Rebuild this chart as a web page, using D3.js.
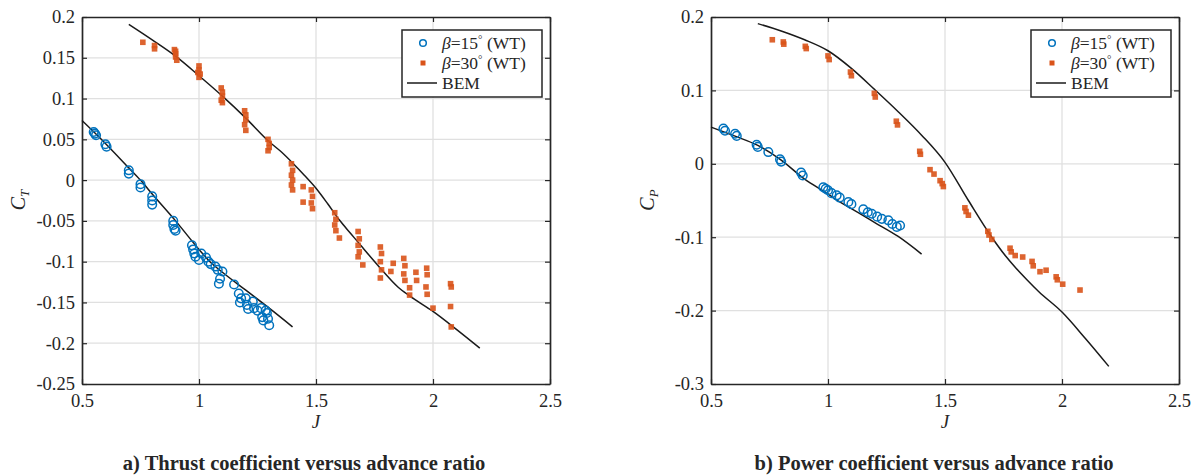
<!DOCTYPE html>
<html>
<head>
<meta charset="utf-8">
<script src="https://cdn.jsdelivr.net/npm/d3@7"></script>
<style>
  body { margin: 0; background: #fff; }
  text { font-family: "Liberation Serif", "Times New Roman", serif; fill: #262626; }
</style>
</head>
<body>
<div id="chart"></div>
<script>
const colorBlue = '#0072BD';
const colorOrange = '#D95319';

// tick values
const jTicks = [0.5, 1, 1.5, 2, 2.5];
const ctTicks = [0.2, 0.15, 0.1, 0.05, 0, -0.05, -0.1, -0.15, -0.2, -0.25];
const cpTicks = [0.2, 0.1, 0, -0.1, -0.2, -0.3];

// BEM curves [J, coefficient]
const bemCt15 = [[0.5,0.073],[0.6,0.045],[0.7,0.015],[0.75,0],[0.8,-0.017],[0.9,-0.05],[1.0,-0.085],[1.05,-0.101],[1.1,-0.113],[1.2,-0.135],[1.3,-0.157],[1.4,-0.18]];
const bemCt30 = [[0.7,0.191],[0.8,0.172],[0.9,0.152],[1.0,0.128],[1.1,0.103],[1.2,0.076],[1.3,0.047],[1.35,0.035],[1.4,0.021],[1.45,0.006],[1.5,-0.01],[1.55,-0.029],[1.6,-0.049],[1.65,-0.066],[1.7,-0.083],[1.775,-0.108],[1.85,-0.131],[1.9,-0.142],[2.0,-0.161],[2.1,-0.183],[2.2,-0.206]];
const bemCp15 = [[0.5,0.05],[0.6,0.038],[0.7,0.025],[0.8,0.005],[0.9,-0.021],[1.0,-0.041],[1.05,-0.052],[1.1,-0.061],[1.2,-0.08],[1.3,-0.099],[1.4,-0.123]];
const bemCp30 = [[0.7,0.191],[0.8,0.181],[0.9,0.169],[1.0,0.154],[1.1,0.13],[1.2,0.101],[1.3,0.071],[1.4,0.039],[1.5,0.002],[1.6,-0.05],[1.7,-0.1],[1.76,-0.126],[1.8,-0.141],[1.85,-0.158],[1.9,-0.174],[2.0,-0.202],[2.1,-0.238],[2.2,-0.276]];

// wind tunnel measurements [J, coefficient]
const wtCt15 = [[0.55,0.059],[0.555,0.057],[0.56,0.055],[0.60,0.044],[0.605,0.041],[0.70,0.012],[0.70,0.008],[0.75,-0.005],[0.75,-0.009],[0.80,-0.02],[0.80,-0.025],[0.80,-0.03],[0.89,-0.05],[0.89,-0.055],[0.895,-0.06],[0.9,-0.062],[0.97,-0.08],[0.975,-0.085],[0.98,-0.09],[0.985,-0.094],[1.0,-0.098],[1.01,-0.09],[1.03,-0.095],[1.04,-0.1],[1.05,-0.103],[1.07,-0.106],[1.08,-0.11],[1.1,-0.112],[1.085,-0.127],[1.09,-0.121],[1.15,-0.128],[1.17,-0.139],[1.175,-0.15],[1.18,-0.145],[1.2,-0.145],[1.205,-0.153],[1.21,-0.158],[1.23,-0.149],[1.235,-0.157],[1.25,-0.16],[1.265,-0.157],[1.27,-0.168],[1.275,-0.172],[1.29,-0.163],[1.295,-0.17],[1.3,-0.178],[1.285,-0.16]];
const wtCt30 = [[0.76,0.169],[0.81,0.165],[0.81,0.161],[0.895,0.16],[0.9,0.155],[0.9,0.151],[0.905,0.147],[0.9,0.158],[1.0,0.14],[1.0,0.135],[1.005,0.13],[1.0,0.126],[0.995,0.132],[1.095,0.113],[1.1,0.108],[1.1,0.103],[1.095,0.098],[1.1,0.095],[1.195,0.085],[1.2,0.08],[1.2,0.074],[1.195,0.068],[1.2,0.061],[1.295,0.05],[1.3,0.045],[1.3,0.04],[1.295,0.036],[1.395,0.02],[1.4,0.012],[1.395,0.006],[1.4,0.0],[1.395,-0.006],[1.4,-0.012],[1.445,-0.008],[1.445,-0.027],[1.48,-0.012],[1.485,-0.02],[1.48,-0.028],[1.485,-0.035],[1.58,-0.04],[1.585,-0.048],[1.58,-0.055],[1.585,-0.062],[1.6,-0.071],[1.68,-0.063],[1.685,-0.072],[1.68,-0.08],[1.685,-0.088],[1.68,-0.094],[1.7,-0.104],[1.775,-0.082],[1.78,-0.09],[1.775,-0.1],[1.78,-0.11],[1.775,-0.12],[1.83,-0.102],[1.82,-0.112],[1.875,-0.096],[1.88,-0.105],[1.875,-0.115],[1.88,-0.123],[1.9,-0.132],[1.9,-0.141],[1.927,-0.113],[1.93,-0.123],[1.973,-0.108],[1.975,-0.116],[1.97,-0.131],[1.975,-0.14],[2.0,-0.157],[2.075,-0.127],[2.078,-0.131],[2.075,-0.155],[2.078,-0.18]];
const wtCp15 = [[0.553,0.048],[0.56,0.045],[0.603,0.041],[0.61,0.038],[0.695,0.026],[0.7,0.023],[0.745,0.016],[0.795,0.006],[0.8,0.003],[0.885,-0.012],[0.892,-0.016],[0.98,-0.032],[0.99,-0.034],[1.0,-0.036],[1.015,-0.04],[1.037,-0.043],[1.05,-0.046],[1.087,-0.052],[1.1,-0.055],[1.151,-0.062],[1.17,-0.066],[1.187,-0.068],[1.21,-0.072],[1.23,-0.075],[1.258,-0.077],[1.275,-0.082],[1.294,-0.086],[1.308,-0.084]];
const wtCp30 = [[0.762,0.169],[0.809,0.166],[0.811,0.163],[0.903,0.16],[0.907,0.157],[1.0,0.147],[1.005,0.142],[1.096,0.125],[1.1,0.12],[1.198,0.096],[1.202,0.091],[1.292,0.058],[1.297,0.053],[1.392,0.017],[1.395,0.013],[1.436,-0.008],[1.453,-0.014],[1.479,-0.023],[1.488,-0.027],[1.493,-0.031],[1.585,-0.06],[1.59,-0.065],[1.6,-0.07],[1.683,-0.092],[1.688,-0.097],[1.7,-0.103],[1.778,-0.115],[1.783,-0.12],[1.8,-0.125],[1.832,-0.127],[1.872,-0.133],[1.877,-0.139],[1.906,-0.147],[1.932,-0.145],[1.975,-0.154],[1.98,-0.158],[2.003,-0.164],[2.077,-0.172]];

const svg = d3.select('#chart').append('svg')
    .attr('width', 1194)
    .attr('height', 476);

function panel(opt) {
    const x = d3.scaleLinear().domain([0.5, 2.5]).range([opt.left, opt.left + 468]);
    const y = d3.scaleLinear().domain(opt.yDomain).range([384, 17]);
    const g = svg.append('g');

    // grid
    g.selectAll('.gx').data(jTicks.slice(1, -1)).enter().append('line')
        .attr('x1', d => x(d)).attr('x2', d => x(d))
        .attr('y1', y.range()[0]).attr('y2', y.range()[1])
        .attr('stroke', '#e0e0e0').attr('stroke-width', 1.3);
    g.selectAll('.gy').data(opt.yTicks.filter(d => d !== opt.yDomain[0] && d !== opt.yDomain[1])).enter().append('line')
        .attr('y1', d => y(d)).attr('y2', d => y(d))
        .attr('x1', x.range()[0]).attr('x2', x.range()[1])
        .attr('stroke', '#e0e0e0').attr('stroke-width', 1.3);

    // axes with inward ticks
    const fmt = d => String(d);
    g.append('g').attr('transform', `translate(0, ${y.range()[0]})`)
        .call(d3.axisBottom(x).tickValues(jTicks).tickFormat(fmt).tickSizeInner(-5).tickSizeOuter(0).tickPadding(10));
    g.append('g').attr('transform', `translate(0, ${y.range()[1]})`)
        .call(d3.axisTop(x).tickValues(jTicks).tickFormat('').tickSizeInner(-5).tickSizeOuter(0));
    g.append('g').attr('transform', `translate(${x.range()[0]}, 0)`)
        .call(d3.axisLeft(y).tickValues(opt.yTicks).tickFormat(fmt).tickSizeInner(-5).tickSizeOuter(0).tickPadding(7));
    g.append('g').attr('transform', `translate(${x.range()[1]}, 0)`)
        .call(d3.axisRight(y).tickValues(opt.yTicks).tickFormat('').tickSizeInner(-5).tickSizeOuter(0));
    g.selectAll('.domain').attr('stroke', '#262626').attr('stroke-width', 1.7);
    g.selectAll('.tick line').attr('stroke', '#262626').attr('stroke-width', 1.2);
    g.selectAll('.tick text').attr('font-size', 18.5).attr('font-family', '"Liberation Serif", serif').attr('fill', '#333');

    // BEM lines
    const line = d3.line().x(d => x(d[0])).y(d => y(d[1])).curve(d3.curveMonotoneX);
    [opt.bem15, opt.bem30].forEach(b => {
        g.append('path').datum(b).attr('d', line)
            .attr('fill', 'none').attr('stroke', '#1a1a1a').attr('stroke-width', 1.5);
    });

    // measurements
    g.selectAll('.wt30').data(opt.wt30).enter().append('rect')
        .attr('x', d => x(d[0]) - 2.8).attr('y', d => y(d[1]) - 2.8)
        .attr('width', 5.6).attr('height', 5.6)
        .attr('fill', colorOrange).attr('opacity', 0.9);
    g.selectAll('.wt15').data(opt.wt15).enter().append('circle')
        .attr('cx', d => x(d[0])).attr('cy', d => y(d[1])).attr('r', 4.3)
        .attr('fill', 'none').attr('stroke', colorBlue).attr('stroke-width', 1.5);

    // axis labels
    g.append('text').attr('x', (x.range()[0] + x.range()[1]) / 2).attr('y', 428)
        .attr('text-anchor', 'middle').attr('font-size', 19).attr('font-style', 'italic').text('J');
    const yl = g.append('text')
        .attr('transform', `translate(${x.range()[0] - 57}, 200) rotate(-90)`)
        .attr('text-anchor', 'middle').attr('font-size', 20).attr('font-style', 'italic');
    yl.append('tspan').text('C');
    yl.append('tspan').attr('font-size', 13).attr('dy', 4).text(opt.sub);

    // caption
    g.append('text').attr('x', opt.capX).attr('y', 470)
        .attr('text-anchor', 'middle').attr('font-size', 20.5).attr('font-weight', 'bold')
        .attr('fill', '#111').text(opt.caption);

    // legend
    const lx = x.range()[1] - 148, ly = 30;
    const lg = g.append('g');
    lg.append('rect').attr('x', lx).attr('y', ly).attr('width', 140).attr('height', 67)
        .attr('fill', '#fff').attr('stroke', '#262626').attr('stroke-width', 1.5);
    lg.append('circle').attr('cx', lx + 21).attr('cy', ly + 13).attr('r', 3.3)
        .attr('fill', 'none').attr('stroke', colorBlue).attr('stroke-width', 1.5);
    lg.append('rect').attr('x', lx + 18.5).attr('y', ly + 30.5).attr('width', 5).attr('height', 5)
        .attr('fill', colorOrange);
    lg.append('line').attr('x1', lx + 5).attr('x2', lx + 35).attr('y1', ly + 53).attr('y2', ly + 53)
        .attr('stroke', '#1a1a1a').attr('stroke-width', 1.5);
    const labels = [['15', 18.5], ['30', 38.5]];
    labels.forEach(l => {
        const t = lg.append('text').attr('x', lx + 40).attr('y', ly + l[1]).attr('font-size', 17.5);
        t.append('tspan').attr('font-style', 'italic').text('β');
        t.append('tspan').text('=' + l[0]);
        t.append('tspan').attr('font-size', 11).attr('dy', -6).text('°');
        t.append('tspan').attr('dy', 6).text(' (WT)');
    });
    lg.append('text').attr('x', lx + 40).attr('y', ly + 58.5).attr('font-size', 17.5).text('BEM');
}

panel({
    left: 82, yDomain: [-0.25, 0.2], yTicks: ctTicks, sub: 'T',
    bem15: bemCt15, bem30: bemCt30, wt15: wtCt15, wt30: wtCt30,
    capX: 304, caption: 'a) Thrust coefficient versus advance ratio'
});
panel({
    left: 711, yDomain: [-0.3, 0.2], yTicks: cpTicks, sub: 'P',
    bem15: bemCp15, bem30: bemCp30, wt15: wtCp15, wt30: wtCp30,
    capX: 934, caption: 'b) Power coefficient versus advance ratio'
});
</script>
</body>
</html>
